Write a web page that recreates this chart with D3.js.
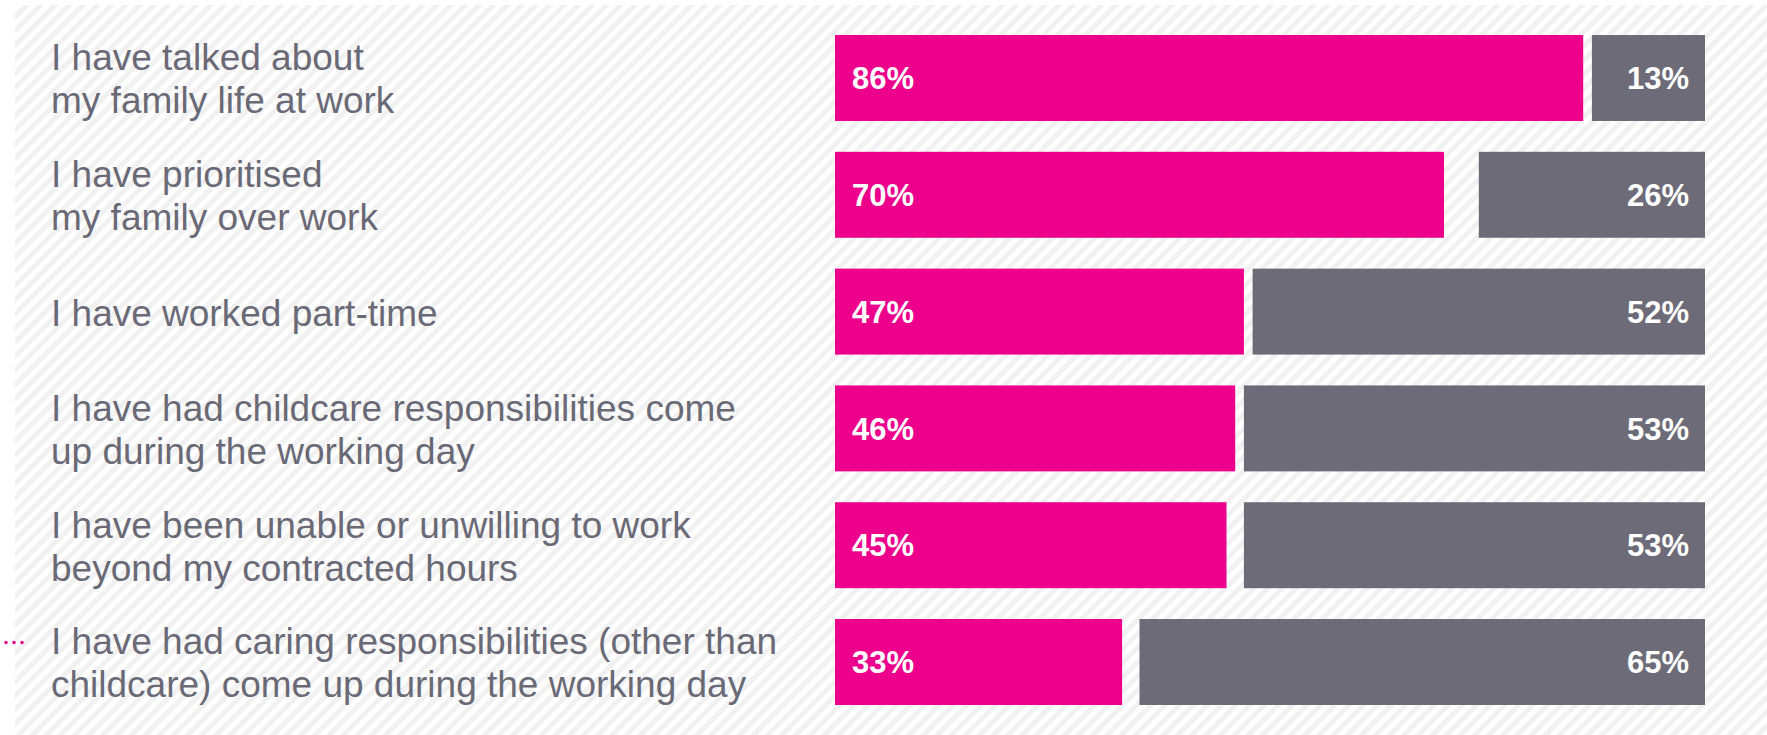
<!DOCTYPE html>
<html>
<head>
<meta charset="utf-8">
<script src="https://cdn.jsdelivr.net/npm/d3@7"></script>
<style>
  html, body { margin: 0; padding: 0; background: #ffffff; }
  svg { display: block; }
  text { font-family: "Liberation Sans", Arial, sans-serif; }
</style>
</head>
<body>
<svg id="chart" width="1767" height="735"></svg>
<script>
// Statements shown as rows, each split over the lines it is printed on
const statements = [
  ["I have talked about", "my family life at work"],
  ["I have prioritised", "my family over work"],
  ["I have worked part-time"],
  ["I have had childcare responsibilities come", "up during the working day"],
  ["I have been unable or unwilling to work", "beyond my contracted hours"],
  ["I have had caring responsibilities (other than", "childcare) come up during the working day"]
];
// Share answering yes (pink, from the left) and no (grey, from the right)
const yesShare = [86, 70, 47, 46, 45, 33];
const noShare  = [13, 26, 52, 53, 53, 65];
// Row flagged with the dotted pointer on the left
const flaggedRow = 5;

const W = 1767, H = 735;
const pink = "#ec008c", grey = "#6c6b77", labelGrey = "#6a6976";

const svg = d3.select("#chart");

// Hatched backdrop
const defs = svg.append("defs");
const pat = defs.append("pattern")
  .attr("id", "hatch")
  .attr("patternUnits", "userSpaceOnUse")
  .attr("width", 10).attr("height", 10)
  .attr("patternTransform", "rotate(45)");
pat.append("rect").attr("width", 10).attr("height", 10).attr("fill", "#ffffff");
pat.append("rect").attr("x", 0).attr("y", 0).attr("width", 5).attr("height", 10).attr("fill", "#f1f1f2");

svg.append("rect").attr("width", W).attr("height", H).attr("fill", "#ffffff");
svg.append("rect").attr("x", 15).attr("y", 5).attr("width", W - 15).attr("height", H - 5)
  .attr("fill", "url(#hatch)");

const x = d3.scaleLinear().domain([0, 100]).range([835, 1705]);
const y = d3.scaleBand()
  .domain(d3.range(statements.length))
  .range([19.6, 720.4])
  .paddingInner(0.264)
  .paddingOuter(0.132);

const rows = svg.append("g").selectAll("g.row")
  .data(statements.map((lines, i) => ({ lines, i, yes: yesShare[i], no: noShare[i] })))
  .join("g").attr("class", "row");

// Yes bars
rows.append("rect")
  .attr("x", x(0))
  .attr("y", d => y(d.i))
  .attr("width", d => x(d.yes) - x(0))
  .attr("height", y.bandwidth())
  .attr("fill", pink);

// No bars, anchored at the right end
rows.append("rect")
  .attr("x", d => x(100 - d.no))
  .attr("y", d => y(d.i))
  .attr("width", d => x(100) - x(100 - d.no))
  .attr("height", y.bandwidth())
  .attr("fill", grey);

// Value labels
rows.append("text")
  .attr("x", x(0) + 17)
  .attr("y", d => y(d.i) + y.bandwidth() / 2)
  .attr("dy", "0.36em")
  .attr("fill", "#ffffff")
  .attr("font-weight", "bold")
  .attr("font-size", 31)
  .text(d => d.yes + "%");

rows.append("text")
  .attr("x", x(100) - 16)
  .attr("y", d => y(d.i) + y.bandwidth() / 2)
  .attr("dy", "0.36em")
  .attr("text-anchor", "end")
  .attr("fill", "#ffffff")
  .attr("font-weight", "bold")
  .attr("font-size", 31)
  .text(d => d.no + "%");

// Statement labels, centred on their bar
const lineH = 43;
rows.append("text")
  .attr("fill", labelGrey)
  .attr("font-size", 37)
  .each(function (d) {
    const cy = y(d.i) + y.bandwidth() / 2 + 1;
    const top = cy - (d.lines.length - 1) * lineH / 2;
    d3.select(this).selectAll("tspan")
      .data(d.lines)
      .join("tspan")
      .attr("x", 51)
      .attr("y", (l, k) => top + k * lineH)
      .attr("dy", "0.35em")
      .text(l => l);
  });

// Dotted pointer beside the flagged statement
const fy = y(flaggedRow) + y.bandwidth() / 2 - (statements[flaggedRow].length - 1) * lineH / 2 + 2;
svg.append("line")
  .attr("x1", -2).attr("x2", 24)
  .attr("y1", fy).attr("y2", fy)
  .attr("stroke", pink)
  .attr("stroke-width", 3.5)
  .attr("stroke-linecap", "round")
  .attr("stroke-dasharray", "0 8");
</script>
</body>
</html>
